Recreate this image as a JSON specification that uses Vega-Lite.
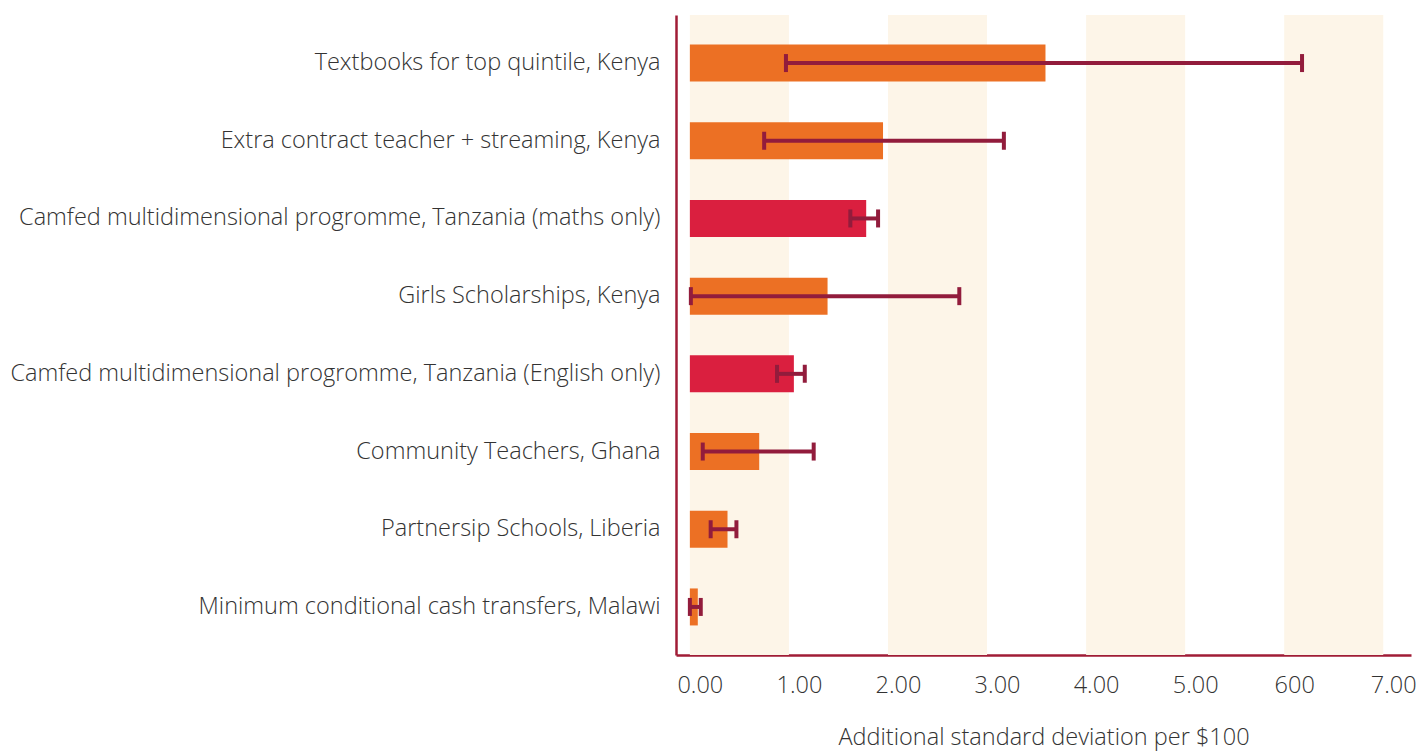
{
  "$schema": "https://vega.github.io/schema/vega-lite/v6.json",
  "width": 735,
  "height": 640,
  "autosize": {"type": "none"},
  "padding": {"left": 676, "top": 15, "right": 15, "bottom": 98},
  "background": "white",
  "config": {
    "view": {"stroke": null},
    "font": "Open Sans",
    "axis": {"grid": false, "ticks": false}
  },
  "datasets": {
    "rows": [
      {"program": "Textbooks for top quintile, Kenya", "value": 3.59, "lo": 0.97, "hi": 6.18, "group": "other"},
      {"program": "Extra contract teacher + streaming, Kenya", "value": 1.95, "lo": 0.75, "hi": 3.17, "group": "other"},
      {"program": "Camfed multidimensional progromme, Tanzania (maths only)", "value": 1.78, "lo": 1.62, "hi": 1.9, "group": "Camfed"},
      {"program": "Girls Scholarships, Kenya", "value": 1.39, "lo": 0.01, "hi": 2.72, "group": "other"},
      {"program": "Camfed multidimensional progromme, Tanzania (English only)", "value": 1.05, "lo": 0.88, "hi": 1.16, "group": "Camfed"},
      {"program": "Community Teachers, Ghana", "value": 0.7, "lo": 0.13, "hi": 1.25, "group": "other"},
      {"program": "Partnersip Schools, Liberia", "value": 0.38, "lo": 0.21, "hi": 0.47, "group": "other"},
      {"program": "Minimum conditional cash transfers, Malawi", "value": 0.08, "lo": 0.0, "hi": 0.11, "group": "other"}
    ],
    "stripes": [
      {"start": 0, "end": 1},
      {"start": 2, "end": 3},
      {"start": 4, "end": 5},
      {"start": 6, "end": 7}
    ]
  },
  "layer": [
    {
      "data": {"name": "stripes"},
      "mark": {"type": "rect", "color": "#FDF5E8"},
      "encoding": {
        "x": {"field": "start", "type": "quantitative", "scale": {"domain": [-0.14, 7.28], "nice": false, "zero": false}},
        "x2": {"field": "end"}
      }
    },
    {
      "data": {"name": "rows"},
      "mark": {"type": "bar", "size": 37},
      "encoding": {
        "y": {
          "field": "program", "type": "nominal", "sort": null,
          "scale": {"paddingInner": 0.523, "paddingOuter": 0.38},
          "axis": {
            "title": null,
            "domainColor": "#A01C36", "domainWidth": 2.5,
            "labelFontSize": 23.5, "labelFont": "Open Sans", "labelFontWeight": 300,
            "labelColor": "#333333", "labelPadding": 16, "labelLimit": 0
          }
        },
        "x": {
          "field": "value", "type": "quantitative",
          "scale": {"domain": [-0.14, 7.28], "nice": false, "zero": false},
          "axis": {
            "values": [0, 1, 2, 3, 4, 5, 6, 7],
            "labelExpr": "datum.value == 6 ? '600' : format(datum.value, '.2f')",
            "labelOffset": 10,
            "labelFlush": false,
            "labelFontSize": 23.5, "labelFont": "Open Sans", "labelFontWeight": 300,
            "labelColor": "#333333", "labelPadding": 18,
            "domainColor": "#A01C36", "domainWidth": 2.5,
            "title": "Additional standard deviation per $100",
            "titleFontSize": 23.5, "titleFont": "Open Sans", "titleFontWeight": 300,
            "titleColor": "#333333", "titlePadding": 29
          }
        },
        "x2": {"datum": 0},
        "color": {
          "field": "group", "type": "nominal",
          "scale": {"domain": ["other", "Camfed"], "range": ["#EC7024", "#DA1F3F"]},
          "legend": null
        }
      }
    },
    {
      "data": {"name": "rows"},
      "mark": {"type": "rule", "color": "#921C3C", "strokeWidth": 4},
      "encoding": {
        "y": {"field": "program", "type": "nominal", "sort": null},
        "x": {"field": "lo", "type": "quantitative"},
        "x2": {"field": "hi"}
      }
    },
    {
      "data": {"name": "rows"},
      "transform": [{"fold": ["lo", "hi"], "as": ["end", "pos"]}],
      "mark": {"type": "tick", "color": "#921C3C", "thickness": 4, "size": 18, "orient": "vertical", "opacity": 1},
      "encoding": {
        "y": {"field": "program", "type": "nominal", "sort": null},
        "x": {"field": "pos", "type": "quantitative"}
      }
    }
  ]
}
